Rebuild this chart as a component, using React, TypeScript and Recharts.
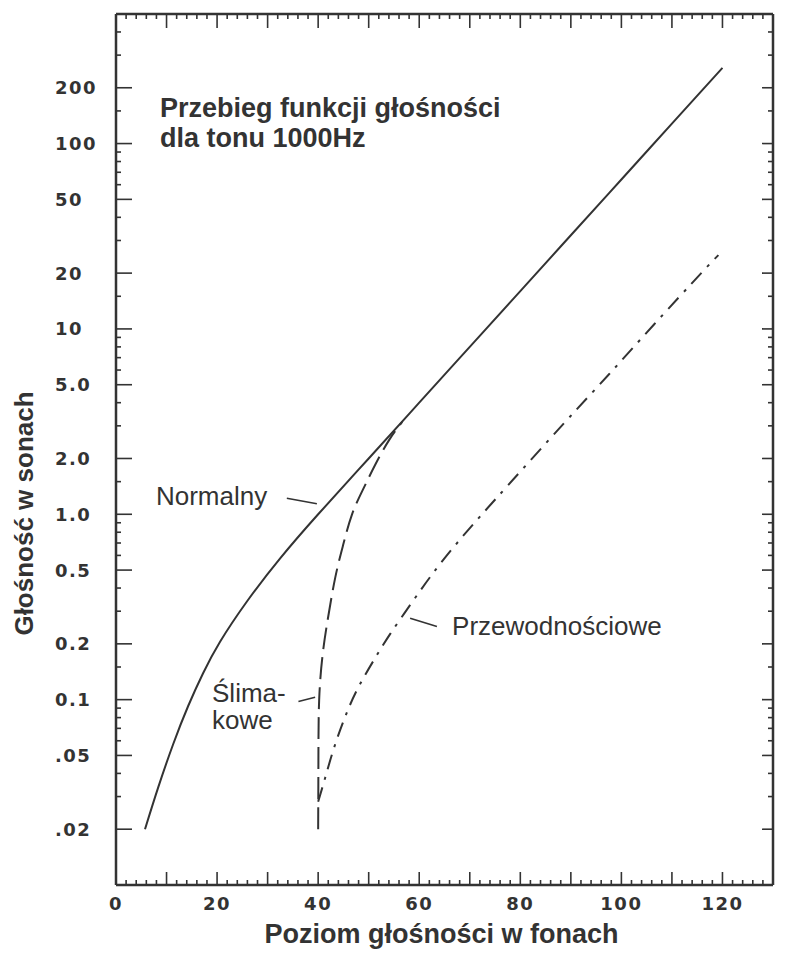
import React from "react";
import { LineChart, Line, XAxis, YAxis, ReferenceLine, ReferenceDot } from "recharts";

// Krzywa normalna (linia ciągła): poziom w fonach -> głośność w sonach
const normalPhon = [5.74, 8.32, 11.29, 14.26, 17.23, 20.59, 25.94, 32.48, 40, 50, 60, 70, 80, 90, 100, 110, 120];
const normalSone = [0.02, 0.0334, 0.0573, 0.0921, 0.1388, 0.2052, 0.3395, 0.5782, 1, 2, 4, 8, 16, 32, 64, 128, 256];

// Ubytek ślimakowy (linia przerywana)
const cochlearPhon = [40, 40.05, 40.2, 40.89, 41.88, 43.37, 44.95, 46.67, 48.81, 51.29, 54.06, 56.63];
const cochlearSone = [0.02, 0.047, 0.1, 0.175, 0.269, 0.454, 0.684, 0.993, 1.35, 1.85, 2.52, 3.15];

// Ubytek przewodnościowy (linia kreska-kropka)
const conductivePhon = [40, 41.39, 42.77, 44.36, 46.14, 48.32, 51.29, 54.26, 58.22, 62.18, 66.53, 71.09, 77.43, 88.7, 97.8, 106.5, 115.8, 119.2];
const conductiveSone = [0.0281, 0.0379, 0.051, 0.0687, 0.0914, 0.1217, 0.168, 0.2264, 0.3245, 0.4596, 0.651, 0.91, 1.42, 3.11, 5.79, 10.6, 20, 25];

const xLabelValues = [0, 20, 40, 60, 80, 100, 120];
const xLabels = ["0", "20", "40", "60", "80", "100", "120"];
const xTicks = Array.from({ length: 65 }, (_, i) => i * 2);

const yMajor = [0.02, 0.05, 0.1, 0.2, 0.5, 1, 2, 5, 10, 20, 50, 100, 200];
const yLabels = [".02", ".05", "0.1", "0.2", "0.5", "1.0", "2.0", "5.0", "10", "20", "50", "100", "200"];
const yMinor = [0.03, 0.04, 0.06, 0.07, 0.08, 0.09, 0.15, 0.3, 0.4, 0.6, 0.7, 0.8, 0.9, 1.5, 3, 4, 6, 7, 8, 9, 15, 30, 40, 60, 70, 80, 90, 150, 300, 400];
const yTicks = [...yMajor, ...yMinor].sort((a, b) => a - b);

// napisy na wykresie (w układzie fony / sony)
const notes = [
  { x: 8.7, y: 139, lines: ["Przebieg funkcji głośności", "dla tonu 1000Hz"], bold: true },
  { x: 7.9, y: 1.12, lines: ["Normalny"], bold: false },
  { x: 19.0, y: 0.097, lines: ["Ślima-", "kowe"], bold: false },
  { x: 66.5, y: 0.224, lines: ["Przewodnościowe"], bold: false },
];
const leaders = [
  [{ x: 33.8, y: 1.22 }, { x: 39.75, y: 1.14 }],
  [{ x: 36.1, y: 0.0977 }, { x: 39.4, y: 0.103 }],
  [{ x: 58.2, y: 0.275 }, { x: 63.5, y: 0.248 }],
];

const INK = "#333333";
const SANS = "'Liberation Sans', Arial, sans-serif";
const TICKFONT = "'DejaVu Sans', sans-serif";

const toPts = (xs: number[], ys: number[]) => xs.map((x, i) => ({ x, y: ys[i] }));

const BottomTick = (p: any) => {
  const v = p.payload.value;
  const li = xLabelValues.indexOf(v);
  const len = v % 10 === 0 ? 13 : 5;
  return (
    <g>
      {v > 0 && v < 130 && <line x1={p.x} x2={p.x} y1={p.y} y2={p.y - len} stroke={INK} strokeWidth={1.6} />}
      {li >= 0 && (
        <text x={p.x} y={p.y + 25} textAnchor="middle" fontFamily={TICKFONT} fontWeight="bold" fontSize={18} letterSpacing={1.5} fill={INK}>
          {xLabels[li]}
        </text>
      )}
    </g>
  );
};

const TopTick = (p: any) => {
  const v = p.payload.value;
  const len = v % 10 === 0 ? 14 : 5;
  if (v <= 0 || v >= 130) return <g />;
  return <line x1={p.x} x2={p.x} y1={p.y} y2={p.y + len} stroke={INK} strokeWidth={1.6} />;
};

const LeftTick = (p: any) => {
  const v = p.payload.value;
  const li = yMajor.indexOf(v);
  const len = li >= 0 ? 16 : 5;
  return (
    <g>
      <line x1={p.x} x2={p.x + len} y1={p.y} y2={p.y} stroke={INK} strokeWidth={1.6} />
      {li >= 0 && (
        <text x={p.x - 61} y={p.y + 6.5} textAnchor="start" fontFamily={TICKFONT} fontWeight="bold" fontSize={18} letterSpacing={1.5} fill={INK}>
          {yLabels[li]}
        </text>
      )}
    </g>
  );
};

const RightTick = (p: any) => {
  const len = yMajor.indexOf(p.payload.value) >= 0 ? 11 : 5;
  return <line x1={p.x} x2={p.x - len} y1={p.y} y2={p.y} stroke={INK} strokeWidth={1.6} />;
};

const NoteText = (note: (typeof notes)[number]) => (p: any) => (
  <text x={p.cx} y={p.cy} fontFamily={SANS} fontWeight={note.bold ? "bold" : "normal"} fontSize={note.bold ? 27 : 26} fill={INK}>
    {note.lines.map((l, i) => (
      <tspan key={i} x={p.cx} dy={i === 0 ? 0 : note.bold ? 30 : 27}>
        {l}
      </tspan>
    ))}
  </text>
);

const XTitle = (p: any) => {
  const vb = p.viewBox;
  return (
    <text x={vb.x + vb.width / 2 - 3} y={vb.y + 58} textAnchor="middle" fontFamily={SANS} fontWeight="bold" fontSize={27} fill={INK}>
      Poziom głośności w fonach
    </text>
  );
};

const YTitle = (p: any) => {
  const vb = p.viewBox;
  const x = vb.x + 25;
  const y = vb.y + vb.height / 2 + 64;
  return (
    <text x={x} y={y} transform={`rotate(-90 ${x} ${y})`} textAnchor="middle" fontFamily={SANS} fontWeight="bold" fontSize={26} fill={INK}>
      Głośność w sonach
    </text>
  );
};

export default function App() {
  const normal = toPts(normalPhon, normalSone);
  return (
    <LineChart width={780} height={945} margin={{ top: 5, right: 14, bottom: 0, left: 0 }}>
      <XAxis
        type="number"
        dataKey="x"
        domain={[0, 130]}
        ticks={xTicks}
        interval={0}
        allowDataOverflow
        height={68}
        tickSize={0}
        tickMargin={0}
        tickLine={false}
        axisLine={{ stroke: INK, strokeWidth: 2.5 }}
        tick={<BottomTick />}
        label={<XTitle />}
      />
      <XAxis
        xAxisId="top"
        orientation="top"
        type="number"
        dataKey="x"
        domain={[0, 130]}
        ticks={xTicks}
        interval={0}
        allowDataOverflow
        height={1}
        tickSize={0}
        tickMargin={0}
        tickLine={false}
        axisLine={{ stroke: INK, strokeWidth: 2.5 }}
        tick={<TopTick />}
      />
      <YAxis
        type="number"
        scale="log"
        domain={[0.01, 500]}
        ticks={yTicks}
        interval={0}
        allowDataOverflow
        width={108}
        tickSize={0}
        tickMargin={0}
        tickLine={false}
        axisLine={{ stroke: INK, strokeWidth: 2.5 }}
        tick={<LeftTick />}
        label={<YTitle />}
      />
      <YAxis
        yAxisId="right"
        orientation="right"
        type="number"
        scale="log"
        domain={[0.01, 500]}
        ticks={yTicks}
        interval={0}
        allowDataOverflow
        width={1}
        tickSize={0}
        tickMargin={0}
        tickLine={false}
        axisLine={{ stroke: INK, strokeWidth: 2.5 }}
        tick={<RightTick />}
      />
      {/* niewidoczna kopia krzywej, żeby górna i prawa oś (ramka) się narysowały */}
      <Line data={normal} dataKey="y" xAxisId="top" yAxisId="right" stroke={INK} strokeOpacity={0} dot={false} activeDot={false} isAnimationActive={false} />
      <Line data={normal} dataKey="y" type="natural" stroke={INK} strokeWidth={2} dot={false} isAnimationActive={false} />
      <Line data={toPts(cochlearPhon, cochlearSone)} dataKey="y" type="natural" stroke={INK} strokeWidth={2} strokeDasharray="22 8" dot={false} isAnimationActive={false} />
      <Line data={toPts(conductivePhon, conductiveSone)} dataKey="y" type="natural" stroke={INK} strokeWidth={2} strokeDasharray="15 8 3 8" dot={false} isAnimationActive={false} />
      {leaders.map((seg, i) => (
        <ReferenceLine key={i} segment={seg} stroke={INK} strokeWidth={1.6} ifOverflow="visible" />
      ))}
      {notes.map((n, i) => (
        <ReferenceDot key={i} x={n.x} y={n.y} r={0} ifOverflow="visible" shape={NoteText(n)} />
      ))}
    </LineChart>
  );
}
